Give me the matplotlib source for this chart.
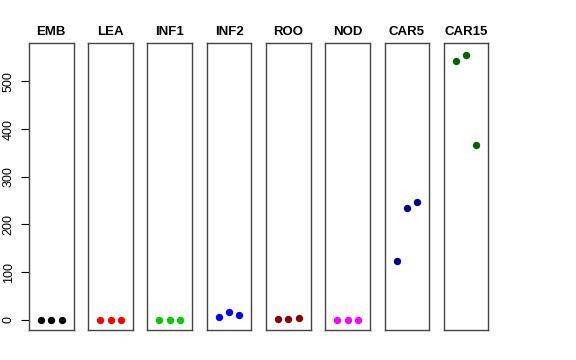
import matplotlib
matplotlib.use("Agg")
import matplotlib.pyplot as plt

plt.rcParams['font.family'] = ['Liberation Sans', 'DejaVu Sans']

# Tissues and their replicate values
tissues = ["EMB", "LEA", "INF1", "INF2", "ROO", "NOD", "CAR5", "CAR15"]
values = [
    [0, 0, 0],
    [0, 0, 0],
    [0, 0, 0],
    [5.6, 17, 10.4],
    [1, 1, 3],
    [0, 0, 0],
    [124, 234, 247],
    [542, 556, 367],
]
colors = ["black", "red", "#00CD00", "blue", "#8B0000", "magenta", "#00008B", "#006400"]
yticks = [0, 100, 200, 300, 400, 500]

fig, axes = plt.subplots(1, 8, figsize=(5.76, 3.6), dpi=100, sharey=True)
fig.subplots_adjust(left=0.0503, right=0.848, top=0.880, bottom=0.0825, wspace=0.327)

for i, ax in enumerate(axes):
    ax.scatter([1, 2, 3], values[i], s=28, color=colors[i], zorder=3, linewidths=0)
    ax.set_xlim(-0.16, 4.16)
    ax.set_ylim(-22, 580)
    ax.set_title(tissues[i], fontsize=9.5, fontweight="bold", pad=6)
    ax.set_xticks([])
    for sp in ax.spines.values():
        sp.set_color("#444444")
        sp.set_linewidth(1.0)
    if i == 0:
        ax.set_yticks(yticks)
        ax.set_yticklabels([str(t) for t in yticks], rotation=90, va="center", fontsize=9)
        ax.tick_params(axis="y", length=5.8, width=0.8, pad=4.5)
    else:
        ax.tick_params(axis="y", left=False, labelleft=False)

fig.savefig("out.png", dpi=100)
